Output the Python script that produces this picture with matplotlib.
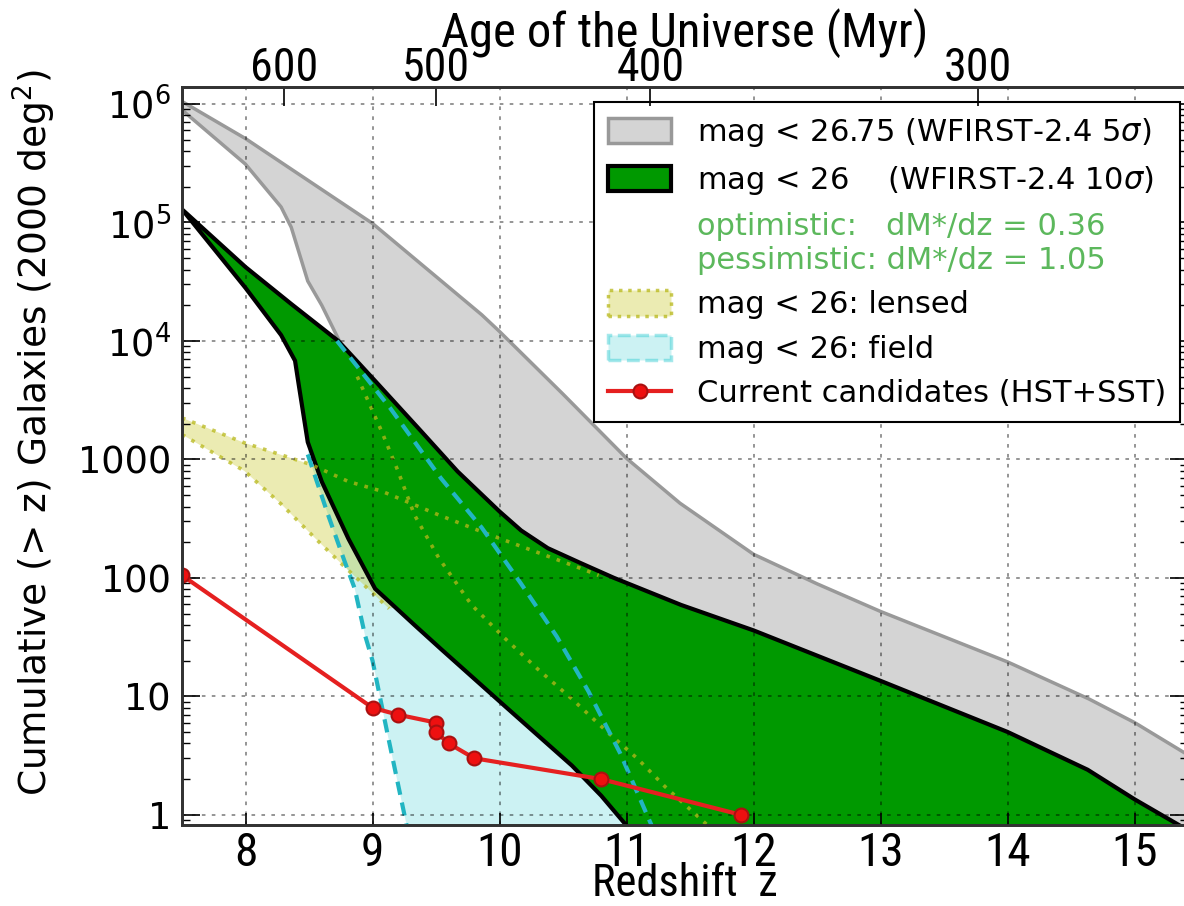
import numpy as np
import matplotlib
matplotlib.use("Agg")
import matplotlib.pyplot as plt
from matplotlib import font_manager as fm
from matplotlib.patches import Patch
from matplotlib.lines import Line2D
from matplotlib.ticker import LogLocator, NullFormatter

# ---------------- data ----------------
# mag < 26.75 band (grey)
z_gray_up = [7.5, 8.0, 9.0, 9.86, 10.0, 10.5, 11.0, 11.42, 12.0, 12.5, 13.0, 14.0, 14.64, 15.0, 15.42]
n_gray_up = [1.05e6, 5.1e5, 9.8e4, 1.66e4, 1.2e4, 3550, 1020, 427, 158, 89, 52, 19.5, 9.5, 6.0, 3.2]
z_gray_lo = [7.5, 8.0, 8.28, 8.36, 8.49, 8.6, 8.76, 9.0, 10.0, 11.0, 12.0, 13.0, 14.0, 15.42]
n_gray_lo = [8.9e5, 3.1e5, 1.35e5, 9.1e4, 3.2e4, 2.0e4, 9000, 2000, 160, 40, 16, 6, 2.5, 0.5]

# mag < 26 band (green)
z_green_up = [7.5, 8.0, 8.36, 8.73, 9.02, 9.38, 9.67, 10.0, 10.17, 10.38, 10.64, 10.9, 11.43, 12.0, 13.0, 14.0, 14.63, 15.0, 15.42]
n_green_up = [1.29e5, 4.2e4, 2.05e4, 1.0e4, 4600, 1740, 790, 363, 251, 178, 133, 100, 59, 36, 13.5, 5.0, 2.4, 1.35, 0.74]
z_green_lo = [7.5, 8.0, 8.28, 8.39, 8.42, 8.49, 8.6, 8.81, 9.02, 9.33, 9.54, 10.04, 10.57, 10.8, 11.05]
n_green_lo = [1.29e5, 2.8e4, 1.12e4, 6800, 4200, 1400, 650, 214, 81, 40, 25, 8.3, 2.6, 1.45, 0.7]

# mag < 26: field (cyan)
z_field_up = [8.72, 8.93, 9.14, 9.54, 9.86, 10.17, 10.45, 10.7, 10.95, 11.2]
n_field_up = [1.0e4, 5200, 2700, 690, 265, 89, 32, 11, 3.3, 0.8]
z_field_lo = [8.49, 8.65, 8.78, 8.86, 8.94, 9.0, 9.12, 9.27]
n_field_lo = [1100, 340, 138, 81, 33, 20, 4.7, 0.8]

# mag < 26: lensed (yellow)
z_lens_up = [7.5, 7.99, 8.52, 8.81, 9.07, 9.52, 9.86, 10.64, 10.78]
n_lens_up = [2240, 1380, 900, 650, 540, 340, 245, 120, 105]
z_lens_lo = [7.5, 7.99, 8.28, 8.55, 8.76, 9.02, 9.13]
n_lens_lo = [1620, 800, 420, 215, 130, 71, 55]
z_lens_steep = [8.88, 9.07, 9.2, 9.33, 9.52, 9.78, 10.04, 10.3, 10.57, 10.84, 11.09, 11.3, 11.63]
n_lens_steep = [5000, 1740, 800, 340, 148, 59, 31, 17, 9.5, 5.1, 2.95, 1.74, 0.83]

# current candidates (HST+SST)
z_cand = [7.5, 9.0, 9.2, 9.5, 9.5, 9.6, 9.8, 10.8, 11.9]
n_cand = [105, 8, 7, 6, 5, 4, 3, 2, 1]

# axis ticks
z_ticks = [8, 9, 10, 11, 12, 13, 14, 15]
y_ticks = [1, 10, 100, 1000, 1e4, 1e5, 1e6]
y_tick_labels = ["1", "10", "100", "1000", "$10^{4}$", "$10^{5}$", "$10^{6}$"]
age_ticks = [600, 500, 400, 300]

legend_labels = [
    "mag < 26.75 (WFIRST-2.4 5$\\sigma$)",
    "mag < 26    (WFIRST-2.4 10$\\sigma$)",
    "optimistic:   dM*/dz = 0.36\npessimistic: dM*/dz = 1.05",
    "mag < 26: lensed",
    "mag < 26: field",
    "Current candidates (HST+SST)",
]


def age_to_z(age_myr):
    # matter-dominated age-redshift relation, t = C (1+z)^-1.5
    return (17017.0 / np.asarray(age_myr, dtype=float)) ** (2.0 / 3.0) - 1.0


# ---------------- fonts ----------------
plt.rcParams["font.family"] = "DejaVu Sans"
plt.rcParams["mathtext.fontset"] = "dejavusans"
names = {f.name for f in fm.fontManager.ttflist}
cond = "DejaVu Sans"
cscale = 0.8
for cand in ["Roboto Condensed", "Liberation Sans Narrow", "DejaVu Sans Condensed"]:
    if cand in names:
        cond = cand
        cscale = 1.0
        break

# ---------------- figure ----------------
W, H = 1184, 906
fig = plt.figure(figsize=(W / 100, H / 100), dpi=100)
x0, x1, yb, yt = 182, 1188, 825, 87
ax = fig.add_axes([x0 / W, 1 - yb / H, (x1 - x0) / W, (yb - yt) / H])
ax.set_yscale("log")
ax.set_xlim(7.5, 15.42)
ax.set_ylim(0.82, 1.39e6)


def band(zu, nu, zl, nl, **kw):
    xs = np.concatenate([np.asarray(zu), np.asarray(zl)[::-1]])
    ys = np.concatenate([np.asarray(nu), np.asarray(nl)[::-1]])
    return ax.fill(xs, ys, **kw)


gray_fc, gray_ec = "#d4d4d4", "#999999"
green_fc = "#009900"
lens_fc = (0.75, 0.75, 0.0, 0.3)
lens_ec = (0.72, 0.72, 0.1, 0.75)
field_fc = (0.0, 0.75, 0.78, 0.2)
field_ec = "#22b5c2"
red = "#e52020"

band(z_gray_up, n_gray_up, z_gray_lo, n_gray_lo, facecolor=gray_fc, edgecolor=gray_ec, lw=2.5, zorder=1)
band(z_field_up, n_field_up, z_field_lo, n_field_lo, facecolor=field_fc, edgecolor="none", zorder=1.1)
band(z_lens_up, n_lens_up, z_lens_lo, n_lens_lo, facecolor=lens_fc, edgecolor="none", zorder=1.2)
band(z_green_up, n_green_up, z_green_lo, n_green_lo, facecolor=green_fc, edgecolor="k", lw=3, zorder=2)

dot = (0, (1, 2))
for zz, nn in [(z_lens_up, n_lens_up), (z_lens_lo, n_lens_lo), (z_lens_steep, n_lens_steep)]:
    ax.plot(zz, nn, ls=dot, color=lens_ec, lw=2.6, zorder=3)
dash = (0, (3.2, 1.9))
for zz, nn in [(z_field_up, n_field_up), (z_field_lo, n_field_lo)]:
    ax.plot(zz, nn, ls=dash, color=field_ec, lw=3, zorder=3)

ax.plot(z_cand, n_cand, "-o", color=red, lw=3, ms=10, mfc="#ee1010", mec="#aa1010", mew=1.5, zorder=6)

# ---------------- axes styling ----------------
ax.set_xticks(z_ticks, labels=[str(t) for t in z_ticks], fontfamily=cond, fontsize=34 * cscale)
ax.set_yticks(y_ticks, labels=y_tick_labels, fontsize=26.5)
ax.yaxis.set_minor_locator(LogLocator(base=10, subs=np.arange(2, 10)))
ax.yaxis.set_minor_formatter(NullFormatter())
ax.tick_params(axis="both", which="both", direction="in")
ax.tick_params(axis="x", which="major", length=9, width=1.2, top=True, bottom=True, pad=4)
ax.tick_params(axis="y", which="major", length=13, width=1.2, left=True, right=True, pad=8)
ax.tick_params(axis="y", which="minor", length=6, width=1.0, left=True, right=True)
ax.grid(True, which="major", color="k", alpha=0.45, ls=(0, (2, 3.5)), lw=1.3)
ax.xaxis.set_zorder(4.5)
ax.yaxis.set_zorder(4.5)

ax.set_xlabel("Redshift  z", fontfamily=cond, fontsize=32 * cscale)
ax.xaxis.label.set_va("baseline")
ax.xaxis.set_label_coords(0.5, (yb - 896) / (yb - yt))
ax.set_ylabel("Cumulative (> z) Galaxies (2000 deg$^2$)", fontsize=27)
ax.yaxis.set_label_coords(-0.123, 0.532)

for s in ax.spines.values():
    s.set_linewidth(2)
    s.set_color("#333333")

ax2 = ax.twiny()
ax2.set_xlim(ax.get_xlim())
ax2.set_xticks(age_to_z(age_ticks), labels=[str(a) for a in age_ticks], fontfamily=cond, fontsize=33 * cscale)
ax2.tick_params(axis="x", direction="in", length=14, width=1.2, pad=4)
for lbl in ax2.get_xticklabels():
    lbl.set_va("baseline")
ax2.set_xlabel("Age of the Universe (Myr)", fontfamily=cond, fontsize=35 * cscale)
ax2.xaxis.label.set_va("baseline")
ax2.xaxis.set_label_coords(0.5, (yb - 47) / (yb - yt))
for s in ax2.spines.values():
    s.set_linewidth(2)
    s.set_color("#333333")

# ---------------- legend ----------------
handles = [
    Patch(facecolor=gray_fc, edgecolor=gray_ec, lw=2.5),
    Patch(facecolor=green_fc, edgecolor="k", lw=3),
    Line2D([], [], linestyle="none"),
    Patch(facecolor=lens_fc, edgecolor=lens_ec, lw=2.5, ls=":"),
    Patch(facecolor=field_fc, edgecolor=(0.0, 0.75, 0.78, 0.35), lw=2.5, ls="--"),
    Line2D([], [], color=red, lw=3, marker="o", ms=10, mfc="#ee1010", mec="#aa1010", mew=1.5),
]
leg = ax.legend(handles, legend_labels, loc="upper right",
                bbox_to_anchor=(1180 / W, 1 - 102 / H), bbox_transform=fig.transFigure,
                borderaxespad=0, fontsize=22, handlelength=2.06, handleheight=0.9,
                handletextpad=0.85, borderpad=0.45, labelspacing=0.5,
                fancybox=False, framealpha=1, edgecolor="k")
leg.get_frame().set_linewidth(1.5)
leg.set_zorder(7)
leg.get_texts()[2].set_color("#5cb85c")

fig.savefig("out.png", dpi=100)
